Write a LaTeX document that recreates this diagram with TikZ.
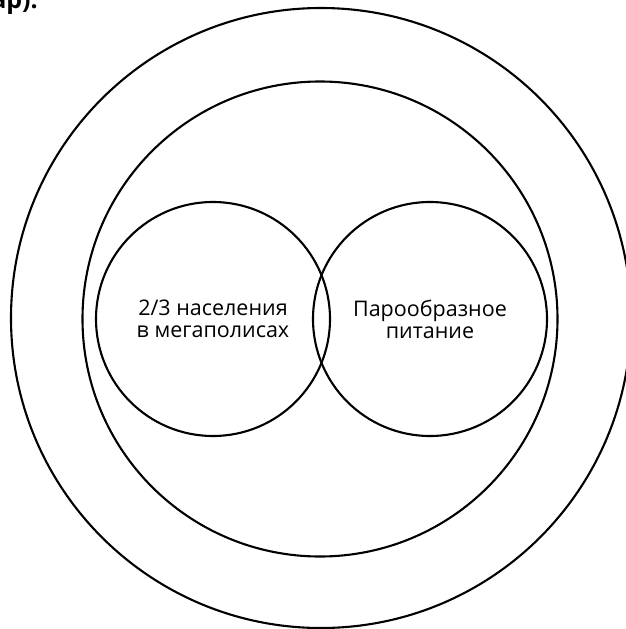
\documentclass[tikz,border=0pt]{standalone}
\usepackage{fontspec}
\setmainfont{Open Sans}
\usepackage{tikz}
\usetikzlibrary{positioning}

\begin{document}
\begin{tikzpicture}[x=1pt, y=-1pt,
  ring/.style={draw, circle, line width=2.1pt, inner sep=0pt},
  blurb/.style={font=\fontsize{21.5}{22}\selectfont, align=center}]
  \useasboundingbox (0,0) rectangle (626,629);

  % Cut-off heading line
  \node[anchor=base east, font=\fontsize{25}{28}\selectfont\bfseries, inner sep=0pt] (heading) at (38,9) {ар).};

  % Outer rings
  \node[ring, minimum size=620pt] (outer) at (321,318) {};
  \node[ring, minimum size=475pt] (middle) at (320,319) {};

  % Two overlapping circles
  \node[ring, minimum size=234pt, blurb] (cities) at (213,319) {2/3 населения\\в мегаполисах};
  \node[ring, minimum size=234pt, blurb] (steam) at (430,319) {Парообразное\\питание};
\end{tikzpicture}
\end{document}
